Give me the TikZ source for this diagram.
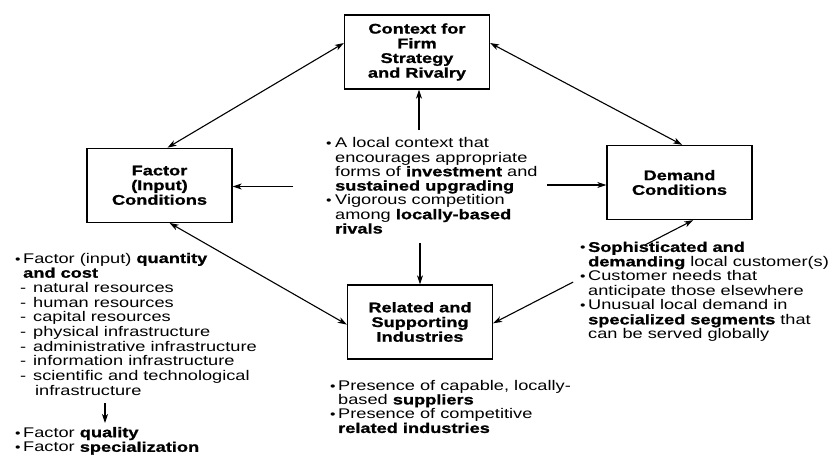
\documentclass[tikz,border=0pt]{standalone}
\usepackage{fontspec}
\setmainfont{Liberation Sans}[FakeStretch=1.3, BoldFeatures={FakeBold=1}]
\usetikzlibrary{arrows.meta,calc}

% bullet and dash markers for the lists
\newcommand{\blt}[1][9pt]{\makebox[#1][l]{\fontsize{12}{12}\selectfont •}}
\newcommand{\dsh}{\hspace*{5pt}\makebox[13pt][l]{-}}
\newcommand{\ind}[1][9pt]{\hspace*{#1}}
\newcommand{\topstrut}{\rule{0pt}{11pt}}

\begin{document}
\begin{tikzpicture}[x=1pt,y=-1pt,
  >={Stealth[length=9pt,width=6pt,inset=2.5pt]},
  box/.style={draw, line width=1.3pt, minimum width=145pt, minimum height=74pt,
    inner sep=0pt, align=center, font=\fontsize{14}{14.7}\selectfont\bfseries},
  txt/.style={anchor=north west, inner sep=0pt, align=left,
    font=\fontsize{14}{14.6}\selectfont},
  link/.style={line width=1.1pt}]

\useasboundingbox (0,0) rectangle (831,455);

% the four determinants
\node[box] (context) at (417,52)   {Context for\\Firm\\Strategy\\and Rivalry};
\node[box] (factor)  at (159.5,185.3) {Factor\\(Input)\\Conditions};
\node[box] (demand)  at (679.5,182.5) {Demand\\Conditions};
\node[box] (related) at (420,322)  {Related and\\Supporting\\Industries};

% central description of the rivalry context
\node[txt, font=\fontsize{14}{14.3}\selectfont] (ctxtext) at (326,136.5)
 {\topstrut\blt A local context that\\
  \ind encourages appropriate\\
  \ind forms of \textbf{investment} and\\
  \ind\textbf{sustained upgrading}\\
  \blt Vigorous competition\\
  \ind among \textbf{locally-based}\\
  \ind\textbf{rivals}};

% factor conditions list
\node[txt, font=\fontsize{14}{14.7}\selectfont] (factext) at (15,251.8)
 {\topstrut\blt[8pt]Factor (input) \textbf{quantity}\\
  \ind[8pt]\textbf{and cost}\\
  \dsh natural resources\\
  \dsh human resources\\
  \dsh capital resources\\
  \dsh physical infrastructure\\
  \dsh administrative infrastructure\\
  \dsh information infrastructure\\
  \dsh scientific and technological\\
  \ind[20pt]infrastructure};
\node[txt] (factout) at (15,426)
 {\topstrut\blt[8pt]Factor \textbf{quality}\\
  \blt[8pt]Factor \textbf{specialization}};

% demand conditions list
\node[txt, font=\fontsize{14}{14.5}\selectfont] (demtext) at (580,240.7)
 {\topstrut\blt[8pt]\textbf{Sophisticated and}\\
  \ind[8pt]\textbf{demanding} local customer(s)\\
  \blt[8pt]Customer needs that\\
  \ind[8pt]anticipate those elsewhere\\
  \blt[8pt]Unusual local demand in\\
  \ind[8pt]\textbf{specialized segments} that\\
  \ind[8pt]can be served globally};

% related industries list
\node[txt, font=\fontsize{14}{14.25}\selectfont] (reltext) at (330,379)
 {\topstrut\blt[8pt]Presence of capable, locally-\\
  \ind[8pt]based \textbf{suppliers}\\
  \blt[8pt]Presence of competitive\\
  \ind[8pt]\textbf{related industries}};

% diamond edges
\draw[link,<->] (factor.78.6) -- (context.173);
\draw[link,<->] (context.7.8) -- (demand.86);
\draw[link,<->] (factor.285.2) -- (related.182.4);

\coordinate (brkA) at ($(related.359)!0.40!(demand.290.6)$);
\coordinate (brkB) at ($(related.359)!0.76!(demand.290.6)$);
\draw[link,->] (brkA) -- (related.359);
\draw[link,->] (brkB) -- (demand.290.6);

% arrows out of the central description
\coordinate (cu) at (419,130);
\coordinate (cd) at (420,243);
\coordinate (cl) at (293,186.5);
\coordinate (cr) at (547,185);
\draw[link,->] (cu) -- (cu |- context.south);
\draw[link,->] (cd) -- (cd |- related.north);
\draw[link,->] (cl) -- (cl -| factor.east);
\draw[link,->] (cr) -- (cr -| demand.west);

% factor creation arrow
\coordinate (qa) at (105,403);
\coordinate (qb) at (105,423);
\draw[link,->] (qa) -- (qb);
\end{tikzpicture}
\end{document}
